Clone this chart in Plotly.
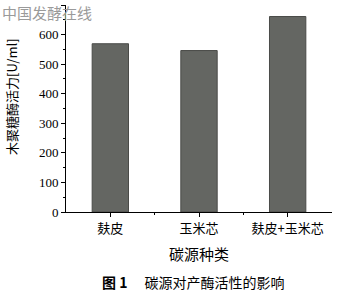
import plotly.graph_objects as go

categories = ["麸皮", "玉米芯", "麸皮+玉米芯"]
values = [569, 546, 661]
y_ticks = [0, 100, 200, 300, 400, 500, 600, 700]

W, H = 338, 294
ml, mr, mt, mb = 66, 6, 5, 82
pw, ph = W - ml - mr, H - mt - mb

def px_x(x):
    return (x - ml) / pw

def px_y(y):
    return (H - mb - y) / ph

xs = list(range(len(categories)))
bounds = [i + 0.5 for i in xs[:-1]]

fig = go.Figure()
fig.add_trace(go.Bar(
    x=xs, y=values, width=0.41,
    marker=dict(color="#646662", line=dict(color="#4a4b48", width=1)),
))

cjk = "Noto Sans CJK SC"
fig.update_layout(
    width=W, height=H,
    margin=dict(l=ml, r=mr, t=mt, b=mb),
    plot_bgcolor="white", paper_bgcolor="white",
    showlegend=False,
    font=dict(family="Liberation Serif", color="black"),
    xaxis=dict(
        range=[-0.5, len(categories) - 0.5],
        tickmode="array", tickvals=xs, ticktext=categories,
        showline=True, linecolor="black", linewidth=1,
        ticks="outside", ticklen=4, tickcolor="black",
        minor=dict(tickmode="array", tickvals=bounds, ticks="outside", ticklen=2, tickcolor="black"),
        tickfont=dict(family=cjk, size=13, color="black"),
        showgrid=False, zeroline=False,
    ),
    yaxis=dict(
        range=[0, 700], tickvals=y_ticks, ticktext=[str(v) if v < 700 else "" for v in y_ticks],
        showline=True, linecolor="black", linewidth=1,
        ticks="outside", ticklen=4, tickcolor="black",
        minor=dict(ticks="outside", ticklen=2, tickcolor="black", dtick=50),
        tickfont=dict(family="Liberation Serif", size=13, color="black"),
        showgrid=False, zeroline=False,
    ),
    annotations=[
        dict(text="中国发酵在线", xref="paper", yref="paper", x=px_x(0), y=px_y(0),
             xanchor="left", yanchor="top", showarrow=False,
             font=dict(family=cjk, size=15, color="#9a9a9a")),
        dict(text="木聚糖酶活力[U/ml]", xref="paper", yref="paper", x=px_x(11), y=px_y(97),
             xanchor="center", yanchor="middle", showarrow=False, textangle=-90,
             font=dict(family=cjk, size=13, color="black")),
        dict(text="碳源种类", xref="paper", yref="paper", x=px_x(199), y=px_y(253),
             xanchor="center", yanchor="middle", showarrow=False,
             font=dict(family=cjk, size=15, color="black")),
        dict(text="<b>图 1</b>　 碳源对产酶活性的影响", xref="paper", yref="paper",
             x=px_x(193), y=px_y(282),
             xanchor="center", yanchor="middle", showarrow=False,
             font=dict(family=cjk, size=14, color="black")),
    ],
)

fig.write_html("out.html")
